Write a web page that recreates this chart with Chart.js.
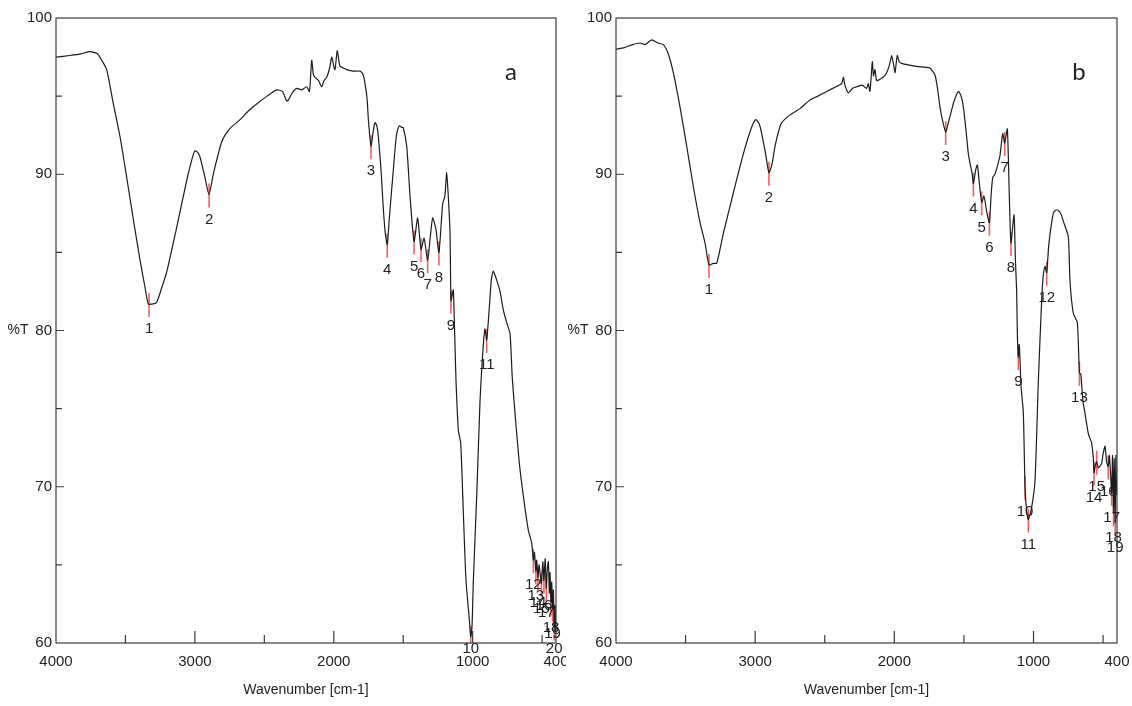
<!DOCTYPE html>
<html>
<head>
<meta charset="utf-8">
<script src="https://cdn.jsdelivr.net/npm/chart.js@4"></script>
<style>
  html, body { margin: 0; padding: 0; background: #fff; }
  #wrap { position: relative; width: 1132px; height: 706px; overflow: hidden; }
  .panel { position: absolute; top: 0; width: 566px; height: 706px; }
</style>
</head>
<body>
<div id="wrap">
  <div class="panel" style="left:0"><canvas id="chartA"></canvas></div>
  <div class="panel" style="left:566px"><canvas id="chartB"></canvas></div>
</div>
<script>
// spectrum a : wavenumber (cm-1) and %T
const wnA = [4000, 3900, 3820, 3755, 3700, 3671, 3635, 3587, 3539, 3491, 3443, 3395, 3360, 3335, 3300, 3275, 3240, 3204, 3131, 3059, 3020, 3000, 2980, 2963, 2930, 2898, 2870, 2843, 2810, 2783, 2740, 2675, 2610, 2555, 2480, 2411, 2370, 2340, 2327, 2300, 2267, 2230, 2195, 2175, 2159, 2147, 2135, 2110, 2087, 2070, 2051, 2030, 2015, 2000, 1991, 1975, 1962, 1955, 1930, 1907, 1860, 1811, 1790, 1775, 1760, 1751, 1732, 1715, 1703, 1690, 1679, 1660, 1644, 1630, 1615, 1600, 1571, 1550, 1529, 1510, 1500, 1475, 1450, 1422, 1396, 1372, 1350, 1324, 1305, 1288, 1265, 1243, 1216, 1200, 1187, 1175, 1163, 1156, 1145, 1139, 1130, 1120, 1103, 1086, 1067, 1048, 1024, 1014, 1005, 995, 971, 947, 935, 920, 911, 899, 880, 865, 851, 830, 803, 779, 755, 731, 715, 695, 664, 635, 599, 575, 563, 555, 545, 539, 530, 522, 515, 505, 495, 487, 478, 470, 462, 455, 448, 443, 436, 431, 425, 419, 413, 407, 402, 400];
const tA = [97.5, 97.6, 97.7, 97.85, 97.7, 97.3, 96.7, 94.5, 92.4, 89.8, 87.1, 84.5, 82.8, 81.7, 81.7, 81.8, 82.7, 83.7, 86.6, 89.6, 91.0, 91.5, 91.4, 91.1, 89.9, 88.7, 89.9, 90.9, 92.0, 92.5, 93.0, 93.5, 94.1, 94.5, 95.0, 95.4, 95.3, 94.7, 94.75, 95.2, 95.5, 95.4, 95.6, 95.3, 97.3, 96.4, 96.2, 96.0, 95.6, 96.0, 96.2, 96.8, 97.5, 96.9, 96.7, 97.9, 97.2, 96.9, 96.8, 96.7, 96.6, 96.6, 96.4, 95.8, 94.8, 93.5, 91.8, 92.8, 93.3, 93.1, 92.4, 90.3, 87.9, 86.3, 85.5, 87.2, 90.3, 92.4, 93.1, 93.0, 93.0, 91.8, 88.5, 85.7, 87.2, 85.2, 85.9, 84.5, 86.0, 87.2, 86.5, 85.0, 88.1, 88.6, 90.1, 88.5, 86.2, 81.9, 82.4, 82.6, 80.0, 76.8, 73.6, 72.8, 68.3, 64.0, 61.5, 60.4, 61.0, 64.0, 69.4, 75.5, 77.5, 79.5, 80.1, 79.4, 81.5, 83.3, 83.8, 83.3, 82.5, 81.3, 80.5, 79.8, 77.0, 74.7, 71.5, 69.4, 67.2, 66.4, 65.3, 65.8, 64.6, 65.3, 64.2, 65.0, 64.5, 63.8, 65.2, 64.0, 65.4, 63.5, 64.8, 65.2, 63.2, 64.5, 62.6, 63.9, 62.2, 63.4, 61.0, 62.4, 60.8, 61.5];
const peakNumA = ['1', '2', '3', '4', '5', '6', '7', '8', '9', '10', '11', '12', '13', '14', '15', '16', '17', '18', '19', '20'];
const peakWnA = [3330, 2898, 1732, 1615, 1422, 1372, 1324, 1243, 1156, 1014, 899, 563, 545, 530, 505, 487, 470, 436, 425, 413];
const peakTA = [81.7, 88.7, 91.8, 85.5, 85.7, 85.2, 84.5, 85.0, 81.9, 60.4, 79.4, 65.3, 64.6, 64.2, 63.8, 64.0, 63.5, 62.6, 62.2, 61.0];

// spectrum b
const wnB = [4000, 3940, 3880, 3828, 3790, 3743, 3700, 3660, 3624, 3588, 3540, 3492, 3444, 3396, 3360, 3332, 3300, 3276, 3229, 3157, 3085, 3030, 2996, 2970, 2953, 2925, 2901, 2880, 2857, 2830, 2809, 2750, 2678, 2640, 2606, 2550, 2486, 2420, 2378, 2366, 2355, 2330, 2300, 2270, 2230, 2200, 2187, 2175, 2158, 2150, 2139, 2127, 2100, 2070, 2055, 2035, 2019, 2005, 1995, 1979, 1965, 1947, 1900, 1839, 1780, 1744, 1708, 1690, 1672, 1650, 1631, 1615, 1600, 1570, 1540, 1520, 1504, 1485, 1468, 1456, 1440, 1432, 1415, 1403, 1390, 1372, 1356, 1332, 1317, 1305, 1293, 1277, 1260, 1241, 1221, 1207, 1188, 1175, 1162, 1140, 1130, 1121, 1116, 1109, 1102, 1090, 1073, 1061, 1050, 1037, 1013, 989, 965, 941, 930, 917, 905, 890, 858, 840, 822, 800, 786, 750, 738, 714, 685, 670, 660, 645, 630, 606, 590, 582, 570, 565, 555, 546, 535, 524, 510, 500, 486, 475, 463, 455, 446, 438, 432, 425, 420, 413, 408, 403, 400];
const tB = [98.0, 98.1, 98.3, 98.4, 98.3, 98.6, 98.4, 98.3, 97.7, 96.5, 94.3, 91.8, 89.2, 86.9, 85.6, 84.2, 84.3, 84.3, 86.2, 88.8, 91.3, 92.9, 93.5, 93.2, 92.6, 91.3, 90.1, 90.6, 91.8, 92.8, 93.3, 93.8, 94.2, 94.5, 94.75, 95.0, 95.3, 95.6, 95.8, 96.2, 95.7, 95.2, 95.5, 95.6, 95.7, 95.5, 95.8, 95.3, 97.2, 96.3, 96.7, 96.0, 96.1, 96.3, 96.5, 97.0, 97.6, 97.0, 96.5, 97.6, 97.2, 97.1, 97.0, 96.9, 96.85, 96.8, 96.35, 95.5, 94.3, 93.3, 92.7, 93.2, 93.7, 94.7, 95.3, 95.0, 94.3, 92.8, 91.3, 90.7, 90.0, 89.4, 90.3, 90.6, 89.5, 88.2, 88.6, 87.4, 86.9, 88.6, 89.8, 90.0, 90.5, 91.2, 92.6, 92.0, 92.9, 89.0, 85.6, 87.4, 84.5, 82.5, 79.8, 78.3, 79.1, 76.5, 74.7, 70.0, 68.5, 67.9, 68.7, 70.4, 76.8, 82.0, 83.5, 84.1, 83.7, 85.5, 87.5, 87.7, 87.7, 87.4, 87.0, 86.0, 83.2, 81.1, 80.5, 77.3, 77.2, 75.5, 74.7, 73.4, 73.0, 72.8, 71.8, 70.9, 71.4, 71.6, 71.2, 71.3, 71.5, 72.1, 72.6, 71.6, 71.3, 72.0, 70.8, 69.6, 72.0, 68.3, 71.8, 67.7, 72.0, 69.5, 70.4];
const peakNumB = ['1', '2', '3', '4', '5', '6', '7', '8', '9', '10', '11', '12', '13', '14', '15', '16', '17', '18', '19'];
const peakWnB = [3332, 2901, 1631, 1432, 1372, 1317, 1207, 1162, 1109, 1061, 1037, 905, 670, 565, 546, 463, 438, 425, 413];
const peakTB = [84.2, 90.1, 92.7, 89.4, 88.2, 86.9, 92.0, 85.6, 78.3, 70.0, 67.9, 83.7, 77.3, 70.9, 71.6, 71.3, 69.6, 68.3, 67.7];

// axis ticks
const xTickLabels = [4000, 3000, 2000, 1000, 400];
const yTickLabels = [60, 70, 80, 90, 100];
const xMajor = [3000, 2000, 1000];
const xMinor = [3500, 2500, 1500, 500];
const yMajor = [70, 80, 90];
const yMinor = [65, 75, 85, 95];

const FONT = "'Liberation Sans', Arial, sans-serif";
const TXT = '#222';

// 枠・内向き目盛り・ピーク番号などをまとめて描くプラグイン
const spectrumDeco = {
  id: 'spectrumDeco',
  beforeDatasetsDraw(chart, args, opts) {
    const { ctx, chartArea: a, scales: { x, y } } = chart;
    ctx.save();
    ctx.strokeStyle = '#f06262';
    ctx.lineWidth = 1.6;
    opts.peakWn.forEach((w, i) => {
      const px = x.getPixelForValue(w);
      const py = y.getPixelForValue(opts.peakT[i]);
      ctx.beginPath();
      ctx.moveTo(px, py - 11);
      ctx.lineTo(px, Math.min(py + 13, a.bottom));
      ctx.stroke();
    });
    ctx.restore();
  },
  afterDraw(chart, args, opts) {
    const { ctx, chartArea: a, scales: { x, y } } = chart;
    ctx.save();
    // frame
    ctx.strokeStyle = '#3a3a3a';
    ctx.lineWidth = 1.2;
    ctx.strokeRect(a.left, a.top, a.right - a.left, a.bottom - a.top);
    // inward ticks
    ctx.beginPath();
    xMajor.forEach(v => { const p = x.getPixelForValue(v); ctx.moveTo(p, a.bottom); ctx.lineTo(p, a.bottom - 12); });
    xMinor.forEach(v => { const p = x.getPixelForValue(v); ctx.moveTo(p, a.bottom); ctx.lineTo(p, a.bottom - 8); });
    yMajor.forEach(v => { const p = y.getPixelForValue(v); ctx.moveTo(a.left, p); ctx.lineTo(a.left + 8, p); });
    yMinor.forEach(v => { const p = y.getPixelForValue(v); ctx.moveTo(a.left, p); ctx.lineTo(a.left + 6, p); });
    ctx.stroke();
    // peak numbers
    ctx.fillStyle = TXT;
    ctx.font = '15px ' + FONT;
    ctx.textAlign = 'center';
    ctx.textBaseline = 'middle';
    opts.peakNum.forEach((n, i) => {
      const px = x.getPixelForValue(opts.peakWn[i]);
      const py = y.getPixelForValue(opts.peakT[i]);
      ctx.fillText(n, px, Math.min(py + 25, a.bottom + 6));
    });
    // axis titles
    ctx.font = '14px ' + FONT;
    ctx.fillText('%T', a.left - 38, (a.top + a.bottom) / 2);
    ctx.fillText('Wavenumber [cm-1]', (a.left + a.right) / 2, a.bottom + 47);
    // panel letter
    ctx.font = '24px Lato, sans-serif';
    ctx.fillText(opts.letter, a.right - opts.letterDx, a.top + 54);
    ctx.restore();
  }
};

function makeChart(id, wn, t, peakNum, peakWn, peakT, padRight, yWidth, letter, letterDx) {
  return new Chart(document.getElementById(id), {
    type: 'scatter',
    data: {
      datasets: [{
        data: wn.map((w, i) => ({ x: w, y: t[i] })),
        showLine: true,
        borderColor: '#1c1c1c',
        borderWidth: 1.2,
        pointRadius: 0,
        tension: 0.2
      }]
    },
    options: {
      responsive: true,
      maintainAspectRatio: false,
      animation: false,
      layout: { padding: { top: 18, right: padRight, bottom: 0, left: 0 } },
      plugins: {
        legend: { display: false },
        tooltip: { enabled: false },
        spectrumDeco: { peakNum, peakWn, peakT, letter, letterDx }
      },
      scales: {
        x: {
          type: 'linear',
          reverse: true,
          min: 400,
          max: 4000,
          afterBuildTicks: s => { s.ticks = xTickLabels.map(v => ({ value: v })); },
          afterFit: s => { s.height = 63; s.paddingLeft = 0; s.paddingRight = 0; },
          grid: { display: false, drawTicks: false },
          border: { display: false },
          ticks: { padding: 10, color: TXT, font: { family: FONT, size: 15 }, maxRotation: 0, autoSkip: false, callback: v => String(v) }
        },
        y: {
          min: 60,
          max: 100,
          afterBuildTicks: s => { s.ticks = yTickLabels.map(v => ({ value: v })); },
          afterFit: s => { s.width = yWidth; s.paddingTop = 0; s.paddingBottom = 0; },
          grid: { display: false, drawTicks: false },
          border: { display: false },
          ticks: { padding: 4, color: TXT, font: { family: FONT, size: 15 }, callback: v => String(v) }
        }
      }
    },
    plugins: [spectrumDeco]
  });
}

makeChart('chartA', wnA, tA, peakNumA, peakWnA, peakTA, 10, 56, 'a', 45);
makeChart('chartB', wnB, tB, peakNumB, peakWnB, peakTB, 15, 50, 'b', 38);
</script>
</body>
</html>
